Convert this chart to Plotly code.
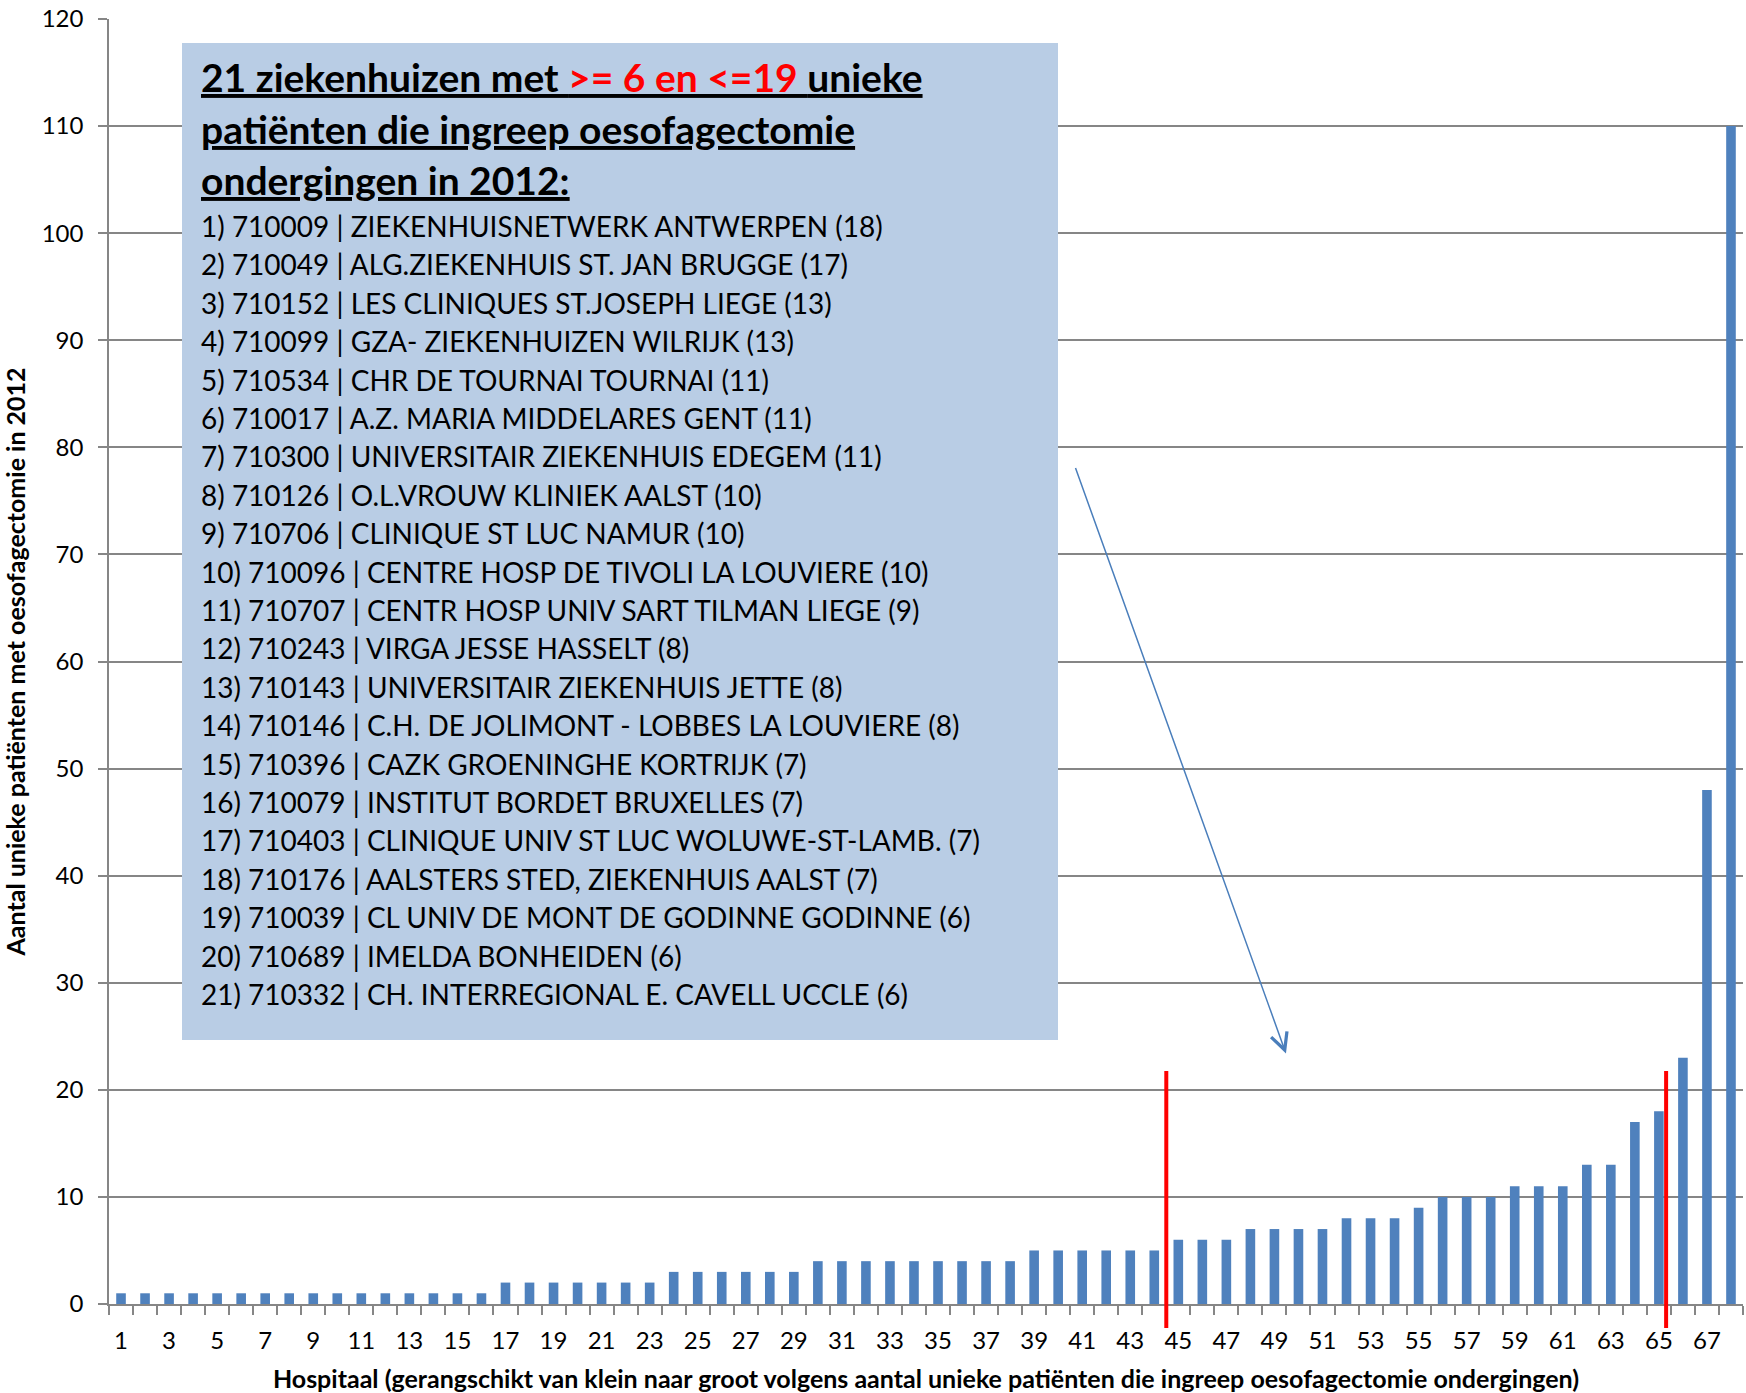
import plotly.graph_objects as go

# rank 1..68, hospitals sorted from small to large
hospital_rank = list(range(1, 69))
patients = (
    [1] * 16 + [2] * 7 + [3] * 6 + [4] * 9 + [5] * 6 + [6] * 3 + [7] * 4
    + [8] * 3 + [9] + [10] * 3 + [11] * 3 + [13] * 2 + [17, 18, 23, 48, 110]
)

x_tick_vals = list(range(1, 68, 2))
x_tick_text = [str(v) for v in x_tick_vals]

# hospitals in the 6..19 band (listed in the text box)
band_codes = [
    "710009", "710049", "710152", "710099", "710534", "710017", "710300",
    "710126", "710706", "710096", "710707", "710243", "710143", "710146",
    "710396", "710079", "710403", "710176", "710039", "710689", "710332",
]
band_names = [
    "ZIEKENHUISNETWERK ANTWERPEN",
    "ALG.ZIEKENHUIS ST. JAN BRUGGE",
    "LES CLINIQUES ST.JOSEPH LIEGE",
    "GZA- ZIEKENHUIZEN WILRIJK",
    "CHR DE TOURNAI TOURNAI",
    "A.Z. MARIA MIDDELARES GENT",
    "UNIVERSITAIR ZIEKENHUIS EDEGEM",
    "O.L.VROUW KLINIEK AALST",
    "CLINIQUE ST LUC NAMUR",
    "CENTRE HOSP DE TIVOLI LA LOUVIERE",
    "CENTR HOSP UNIV SART TILMAN LIEGE",
    "VIRGA JESSE HASSELT",
    "UNIVERSITAIR ZIEKENHUIS JETTE",
    "C.H. DE JOLIMONT - LOBBES LA LOUVIERE",
    "CAZK GROENINGHE KORTRIJK",
    "INSTITUT BORDET BRUXELLES",
    "CLINIQUE UNIV ST LUC WOLUWE-ST-LAMB.",
    "AALSTERS STED, ZIEKENHUIS AALST",
    "CL UNIV DE MONT DE GODINNE GODINNE",
    "IMELDA BONHEIDEN",
    "CH. INTERREGIONAL E. CAVELL UCCLE",
]
band_counts = [18, 17, 13, 13, 11, 11, 11, 10, 10, 10, 9, 8, 8, 8, 7, 7, 7, 7, 6, 6, 6]

# band boundaries marked with red lines (between ranks)
band_lo_pos = 44.5
band_hi_pos = 65.3

BAR_COLOR = "#4F81BD"
GRID_COLOR = "#868686"
BOX_COLOR = "#B9CDE5"
FONT = "Lato"

W, H = 1746, 1393
L, R, T, B = 109, 3, 19, 89


def px_x(x):
    return (x - L) / (W - L - R)


def px_y(y):
    return (H - B - y) / (H - B - T)


fig = go.Figure()
fig.add_trace(
    go.Bar(
        x=hospital_rank,
        y=patients,
        marker=dict(color=BAR_COLOR, line=dict(width=0)),
        width=0.4,
        showlegend=False,
    )
)

# text box background
fig.add_shape(
    type="rect", xref="paper", yref="paper",
    x0=px_x(182), x1=px_x(1058), y0=px_y(1040), y1=px_y(43),
    fillcolor=BOX_COLOR, line=dict(width=0), layer="above",
)

title_lines = [
    "<b><u>21 ziekenhuizen met <span style='color:#FF0000'>&gt;= 6 en &lt;=19 </span>unieke</u></b>",
    "<b><u>patiënten die ingreep oesofagectomie</u></b>",
    "<b><u>ondergingen in 2012:</u></b>",
]
title_centers = [77, 129, 180]
for txt, yc in zip(title_lines, title_centers):
    fig.add_annotation(
        text=txt, xref="paper", yref="paper", x=px_x(199), y=px_y(yc),
        xanchor="left", yanchor="middle", showarrow=False,
        font=dict(family=FONT, size=39, color="#000000"),
    )

for i, (code, name, cnt) in enumerate(zip(band_codes, band_names, band_counts)):
    fig.add_annotation(
        text=f"{i + 1}) {code} | {name} ({cnt})",
        xref="paper", yref="paper", x=px_x(199), y=px_y(226 + i * 38.4),
        xanchor="left", yanchor="middle", showarrow=False,
        font=dict(family=FONT, size=28, color="#000000"),
    )

# red boundary lines
for xv in (band_lo_pos, band_hi_pos):
    fig.add_shape(
        type="line", xref="x", yref="paper",
        x0=xv, x1=xv, y0=px_y(1328), y1=px_y(1071),
        line=dict(color="#FF0000", width=4), layer="above",
    )

# arrow from the box to the band
fig.add_annotation(
    x=49.48, y=23.4, ax=40.7, ay=78.2, xref="x", yref="y", axref="x", ayref="y",
    text="", showarrow=True, arrowhead=5, arrowsize=2.2, arrowwidth=1.5,
    arrowcolor="#4A7EBB",
)

tick_font = dict(family=FONT, size=24, color="#000000")
title_font = dict(family=FONT, size=25, color="#000000", weight="bold")
fig.update_layout(
    width=W, height=H,
    margin=dict(l=L, r=R, t=T, b=B),
    paper_bgcolor="white", plot_bgcolor="white",
    bargap=0.6,
    font=dict(family=FONT, color="#000000"),
    xaxis=dict(
        range=[0.5, 68.5], tickmode="array", tickvals=x_tick_vals, ticktext=x_tick_text,
        ticks="", showgrid=False, zeroline=False,
        showline=True, linecolor=GRID_COLOR, linewidth=1.5,
        tickfont=tick_font, ticklabelstandoff=14,
        minor=dict(ticks="outside", tick0=0.5, dtick=1, ticklen=9, tickcolor=GRID_COLOR, tickwidth=1.5, showgrid=False),
        title=dict(
            text="Hospitaal (gerangschikt van klein naar groot volgens aantal unieke patiënten die ingreep oesofagectomie ondergingen)",
            font=title_font, standoff=19,
        ),
    ),
    yaxis=dict(
        range=[0, 120], dtick=10, tickmode="linear", tick0=0,
        showgrid=True, gridcolor=GRID_COLOR, gridwidth=1.5, zeroline=False,
        showline=True, linecolor=GRID_COLOR, linewidth=1.5,
        ticks="outside", ticklen=9, tickcolor=GRID_COLOR, tickwidth=1.5,
        tickfont=tick_font, ticklabelstandoff=10,
        title=dict(
            text="Aantal unieke patiënten met oesofagectomie in 2012",
            font=title_font, standoff=13,
        ),
    ),
)

fig.write_html(
    "out.html",
    config={"displayModeBar": False},
    post_script="document.body.style.margin='0';",
)
